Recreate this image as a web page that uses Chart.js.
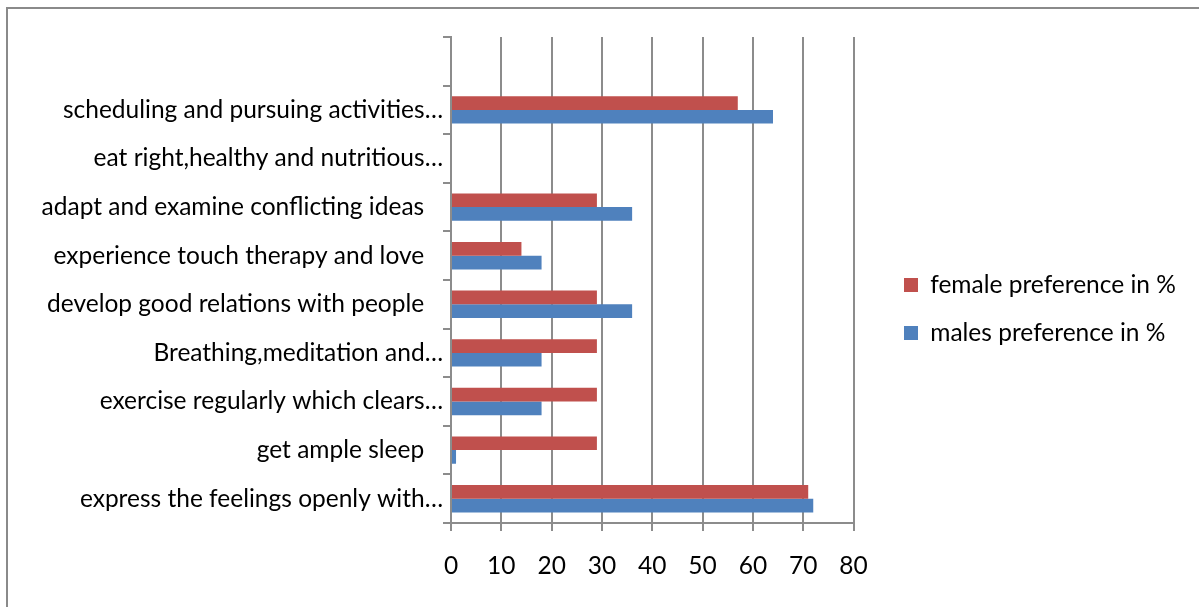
<!DOCTYPE html>
<html>
<head>
<meta charset="utf-8">
<script src="https://cdn.jsdelivr.net/npm/chart.js@4/dist/chart.umd.min.js"></script>
<style>
  html, body { margin: 0; padding: 0; background: #fff; overflow: hidden; }
  #frame { position: absolute; left: 6px; top: 7px; width: 1300px; height: 700px; border: 2px solid #8a8a8a; }
  #chart { position: absolute; left: 0; top: 0; }
</style>
</head>
<body>
<div id="frame"></div>
<canvas id="chart" width="1199" height="607"></canvas>
<script>
  // categories top to bottom (first slot left blank)
  const categories = [
    '',
    'scheduling and pursuing activities\u2026',
    'eat right,healthy and nutritious\u2026',
    'adapt and examine conflicting ideas   ',
    'experience touch therapy and love   ',
    'develop good relations with people   ',
    'Breathing,meditation and\u2026',
    'exercise regularly which clears\u2026',
    'get ample sleep   ',
    'express the feelings openly with\u2026'
  ];
  const femaleValues = [null, 57, 0, 29, 14, 29, 29, 29, 29, 71];
  const maleValues   = [null, 64, 0, 36, 18, 36, 18, 18, 1, 72];
  const xTicks = [0, 10, 20, 30, 40, 50, 60, 70, 80];

  const FONT = { family: 'Lato', size: 24.5 };
  const GRID = '#8c8c8c';

  // leave a gap between the plot and the legend, let the legend run to the edge
  const legendGap = {
    id: 'legendGap',
    afterLayout(chart) {
      const lg = chart.legend;
      if (!lg) return;
      lg.left += 27;
      lg.right = chart.width;
      lg.width = lg.right - lg.left;
    }
  };

  const ctx = document.getElementById('chart').getContext('2d');
  new Chart(ctx, {
    type: 'bar',
    data: {
      labels: categories,
      datasets: [
        { label: 'female preference in %', data: femaleValues, backgroundColor: '#C0504D' },
        { label: 'males preference in %', data: maleValues, backgroundColor: '#4F81BD' }
      ]
    },
    plugins: [legendGap],
    options: {
      indexAxis: 'y',
      responsive: false,
      animation: false,
      devicePixelRatio: 1,
      barPercentage: 1,
      categoryPercentage: 0.564,
      layout: { padding: { top: 37, right: 61, bottom: 26, left: 0 } },
      plugins: {
        tooltip: { enabled: false },
        legend: {
          position: 'right',
          labels: { font: FONT, color: '#000', boxWidth: 14, boxHeight: 14, padding: 23.5 }
        }
      },
      scales: {
        x: {
          min: 0, max: 80,
          afterBuildTicks: s => { s.ticks = xTicks.map(v => ({ value: v })); },
          afterFit: s => { s.height = 58; },
          ticks: { font: FONT, color: '#000', padding: 20 },
          grid: { color: GRID, lineWidth: 2, tickLength: 8, drawTicks: true },
          border: { color: GRID, width: 2 }
        },
        y: {
          afterFit: s => { s.width = 451; },
          ticks: { font: FONT, color: '#000', padding: 0, autoSkip: false },
          grid: { offset: true, drawOnChartArea: false, color: GRID, lineWidth: 2, tickLength: 8 },
          border: { color: GRID, width: 2 }
        }
      }
    }
  });
</script>
</body>
</html>
